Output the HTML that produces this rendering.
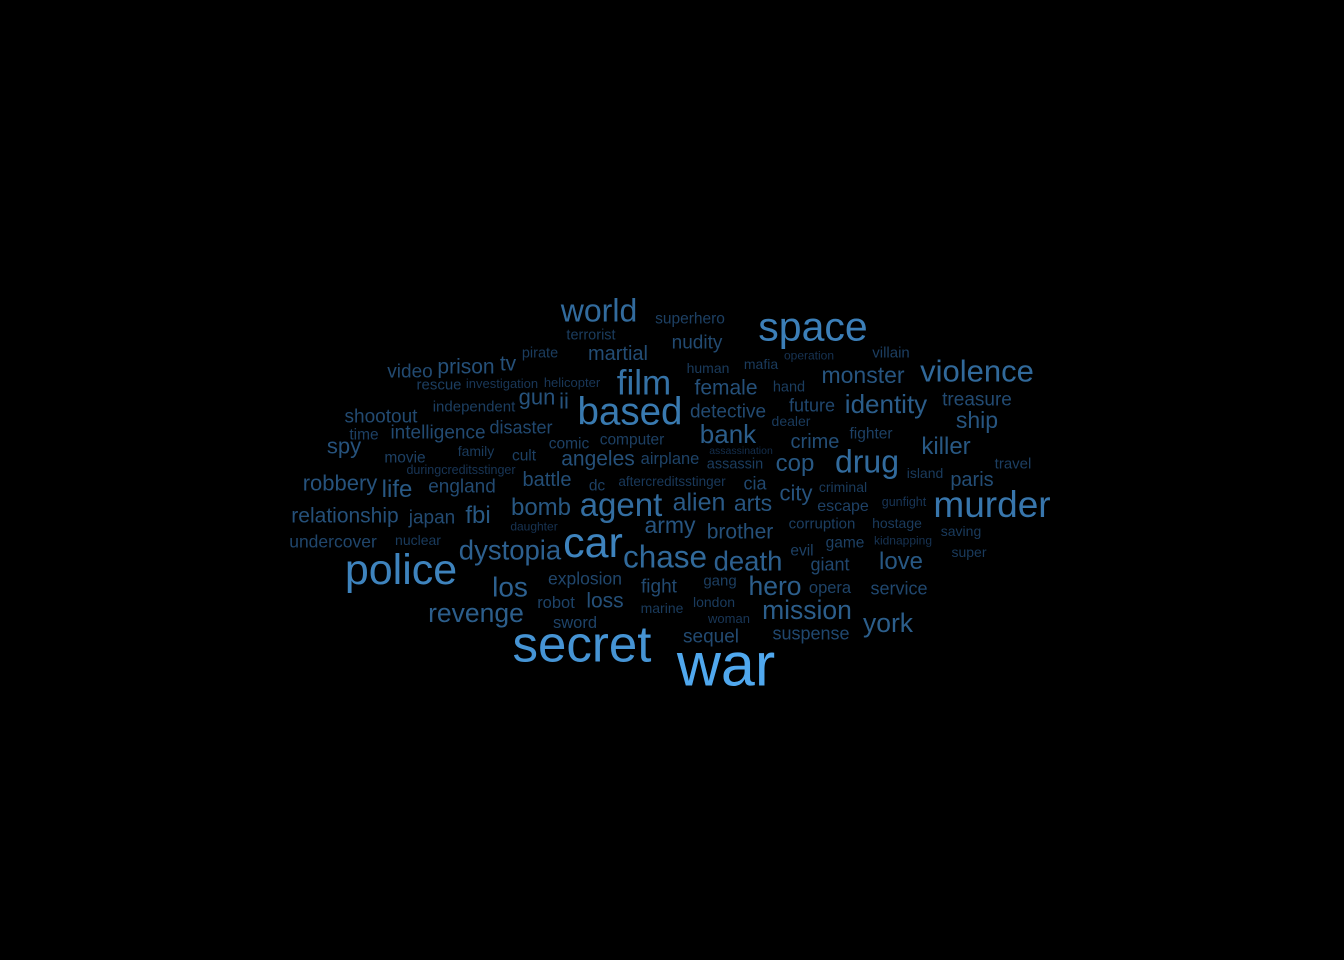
<!DOCTYPE html>
<html><head><meta charset="utf-8"><style>
html,body{margin:0;padding:0;background:#000;}
svg{display:block}
text{font-family:"Liberation Sans",Arial,sans-serif;}
</style></head><body>
<svg id="cloud" width="1344" height="960" viewBox="0 0 1344 960">
<rect width="1344" height="960" fill="#000"/>
</svg>
<script>
const words = ["world","superhero","terrorist","space","nudity","martial","pirate","tv","prison","video","operation","villain","mafia","human","violence","monster","film","rescue","investigation","helicopter","female","hand","based","gun","ii","independent","shootout","treasure","future","identity","detective","dealer","ship","intelligence","disaster","time","fighter","bank","crime","killer","comic","computer","spy","family","cult","assassination","movie","angeles","airplane","assassin","drug","cop","duringcreditsstinger","island","travel","paris","robbery","life","england","battle","dc","aftercreditsstinger","cia","criminal","city","gunfight","alien","arts","agent","murder","bomb","escape","fbi","relationship","japan","daughter","army","brother","corruption","hostage","saving","undercover","nuclear","dystopia","car","chase","death","evil","game","kidnapping","super","giant","love","police","explosion","gang","los","fight","hero","opera","service","robot","loss","marine","london","mission","revenge","sword","woman","york","sequel","suspense","secret","war"];
const weights = [32,15.5,14.5,41,19,20,14.5,21,21,19,12,15,14,14,31,23,35,15,13,13,21,14.5,38.5,22,22,15,19,19,18,26,19,14,23,19,18,15.5,15.5,26,20,24,15.5,15.5,22,14,15.5,10.5,15.5,21,16.5,14.5,32,24,12.5,14,15,20,22,24,19,20,15.5,13.5,18,14,22,12.5,25,23,33,37,24,16,24,21,19,12,23,21,15,14,14,17.5,14,27.5,43,31.5,27.5,15.5,15.5,12,14,18,24,43,17.5,15,28,19,26.5,16.5,18,16.5,21,14,14,26.5,26.5,16.5,13,26.5,19,18,51,61];
const centersX = [599,690,591,813,697,618,540,508,466,410,809,891,761,708,977,863,644,439,502,572,726,789,630,537,564,474,381,977,812,886,728,791,977,438,521,364,871,728,815,946,569,632,344,476,524,741,405,598,670,735,867,795,461,925,1013,972,340,397,462,547,597,672,755,843,796,904,699,753,621,992,541,843,478,345,432,534,670,740,822,897,961,333,418,510,593,665,748,802,845,903,969,830,901,401,585,720,510,659,775,830,899,556,605,662,714,807,476,575,729,888,711,811,582,726];
const centersY = [311,318,334,327,342,353,352,363,366,371,355,352,364,368,371,375,383,384,383,382,387,386,412,397,401,406,416,399,405,404,411,421,420,432,427,434,433,434,441,446,443,439,446,451,455,450,457,458,458,463,462,463,469,473,463,479,483,489,486,479,485,481,483,487,493,501,502,503,505,505,507,505,515,515,517,526,525,531,523,523,531,541,540,550,543,557,561,550,542,540,552,564,561,570,578,580,587,586,586,587,588,602,600,608,602,610,613,622,618,623,636,633,645,666];

function colorFor(w){
  const t = Math.max(0, Math.min(1, (w - 11) / 50));
  const a=[20,46,76], b=[80,168,238];
  const c=a.map((v,i)=>Math.round(v+(b[i]-v)*Math.pow(t,0.8)));
  return `rgb(${c[0]},${c[1]},${c[2]})`;
}
const svg = document.getElementById('cloud');
const NS = 'http://www.w3.org/2000/svg';
words.forEach((w,i)=>{
  const t = document.createElementNS(NS,'text');
  const fs = weights[i];
  t.setAttribute('x', centersX[i]);
  t.setAttribute('y', centersY[i] + 0.3*fs + 1);
  t.setAttribute('text-anchor','middle');
  t.setAttribute('font-size', fs);
  t.setAttribute('fill', colorFor(fs));
  
  
  t.textContent = w;
  svg.appendChild(t);
});
</script>
</body></html>
